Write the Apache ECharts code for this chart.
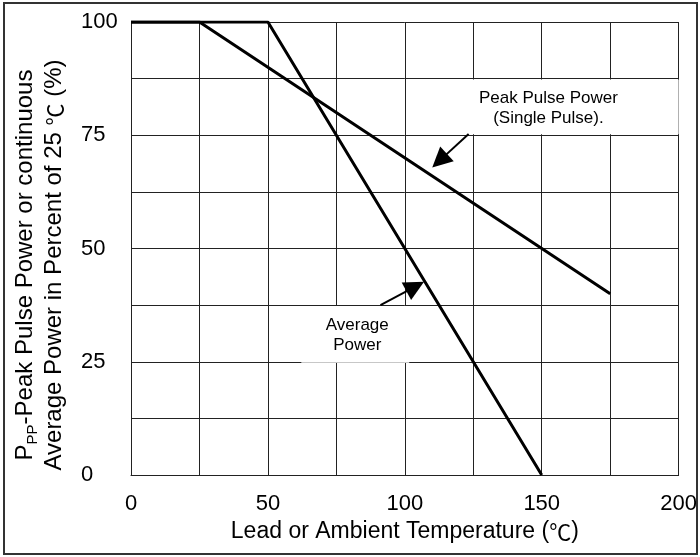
<!DOCTYPE html>
<html>
<head>
<meta charset="utf-8">
<script src="https://cdn.jsdelivr.net/npm/echarts@6/dist/echarts.min.js"></script>
<style>
  html, body { margin: 0; padding: 0; background: #fff; }
  #chart1 { width: 700px; height: 557px; }
</style>
</head>
<body>
<div id="chart1"></div>
<script>
// derating curves (temperature in ℃, power in % of 25 ℃)
var peakTemp = [0, 25, 175];
var peakPct = [100, 100, 40];
var avgTemp = [0, 50, 150];
var avgPct = [100, 100, 0];

// callout arrows: [from, to] in data units
var peakArrow = [[123.3, 75.3], [112.7, 69.4]];
var avgArrow = [[91.1, 37.5], [103.8, 41.6]];

var peakLabel = 'Peak Pulse Power\n(Single Pulse).';
var avgLabel = 'Average\nPower';

var xTicks = [0, 50, 100, 150, 200];
var yTicks = [0, 25, 50, 75, 100];

var font = "'Liberation Sans', Arial, sans-serif";
var cjkFont = "'Noto Sans CJK SC', sans-serif";

function pairs(xs, ys) {
  return xs.map(function (x, i) { return [x, ys[i]]; });
}

var chartDom = document.getElementById('chart1');
var myChart = echarts.init(chartDom);
var option;

option = {
  animation: false,
  backgroundColor: '#fff',
  grid: { left: 131, right: 16, top: 22, bottom: 82 },
  xAxis: {
    type: 'value',
    min: 0,
    max: 200,
    interval: 25,
    name: '{t|Lead or Ambient Temperature (}{c|℃}{t|)}',
    nameLocation: 'middle',
    nameGap: 43,
    nameTextStyle: {
      fontSize: 23, color: '#000', fontFamily: font,
      rich: {
        t: { fontSize: 23, color: '#000', fontFamily: font, lineHeight: 26 },
        c: { fontSize: 22, color: '#000', fontFamily: cjkFont, lineHeight: 26 }
      }
    },
    axisLine: { lineStyle: { color: '#222', width: 1 } },
    axisTick: { show: false },
    axisLabel: {
      margin: 18,
      fontSize: 22,
      color: '#000',
      fontFamily: font,
      formatter: function (v) { return xTicks.indexOf(v) >= 0 ? String(v) : ''; }
    },
    splitLine: { show: true, lineStyle: { color: '#222', width: 1 } }
  },
  yAxis: {
    type: 'value',
    min: 0,
    max: 100,
    interval: 12.5,
    axisLine: { show: true, lineStyle: { color: '#222', width: 1 } },
    axisTick: { show: false },
    axisLabel: {
      margin: 50,
      align: 'left',
      fontSize: 22,
      color: '#000',
      fontFamily: font,
      formatter: function (v) { return yTicks.indexOf(v) >= 0 ? String(v) : ''; }
    },
    splitLine: { show: true, lineStyle: { color: '#222', width: 1 } }
  },
  graphic: [
    {
      type: 'rect',
      shape: { x: 4, y: 3, width: 693, height: 551 },
      style: { fill: 'none', stroke: '#333', lineWidth: 2 },
      z: 100
    },
    {
      type: 'text',
      x: 40,
      y: 265,
      rotation: Math.PI / 2,
      style: {
        text: '{m|P}{s|PP}{m|-Peak Pulse Power or continuous}\n{m|Average Power in Percent of 25 }{c|℃}{m| (%)}',
        align: 'center',
        verticalAlign: 'middle',
        fill: '#000',
        rich: {
          m: { fontSize: 24, lineHeight: 29, fontFamily: font, fill: '#000' },
          c: { fontSize: 22, lineHeight: 29, fontFamily: cjkFont, fill: '#000' },
          s: { fontSize: 15, lineHeight: 22, verticalAlign: 'bottom', fontFamily: font, fill: '#000' }
        }
      }
    }
  ],
  series: [
    {
      name: 'Peak Pulse Power',
      type: 'line',
      data: pairs(peakTemp, peakPct),
      symbol: 'none',
      z: 4,
      lineStyle: { color: '#000', width: 3 },
      markArea: {
        silent: true,
        itemStyle: { color: '#fff', opacity: 1 },
        label: {
          show: true,
          position: 'inside',
          color: '#000',
          fontSize: 17,
          lineHeight: 20,
          fontFamily: font
        },
        data: [
          [{ name: peakLabel, xAxis: 100.5, yAxis: 87.3, label: { offset: [6, 1] } }, { xAxis: 200, yAxis: 75.2 }],
          [{ name: avgLabel, xAxis: 62.2, yAxis: 37.3, label: { offset: [2, 1] } }, { xAxis: 101.6, yAxis: 24.8 }]
        ]
      }
    },
    {
      name: 'Average Power',
      type: 'line',
      data: pairs(avgTemp, avgPct),
      symbol: 'none',
      z: 4,
      lineStyle: { color: '#000', width: 3 }
    },
    {
      type: 'lines',
      coordinateSystem: 'cartesian2d',
      z: 6,
      symbol: ['none', 'triangle'],
      symbolSize: 20,
      lineStyle: { color: '#000', width: 2, opacity: 1 },
      itemStyle: { color: '#000' },
      data: [
        { coords: peakArrow },
        { coords: avgArrow }
      ]
    }
  ]
};

option && myChart.setOption(option);
window.onresize = function() {
  myChart.resize();
};
</script>
</body>
</html>
